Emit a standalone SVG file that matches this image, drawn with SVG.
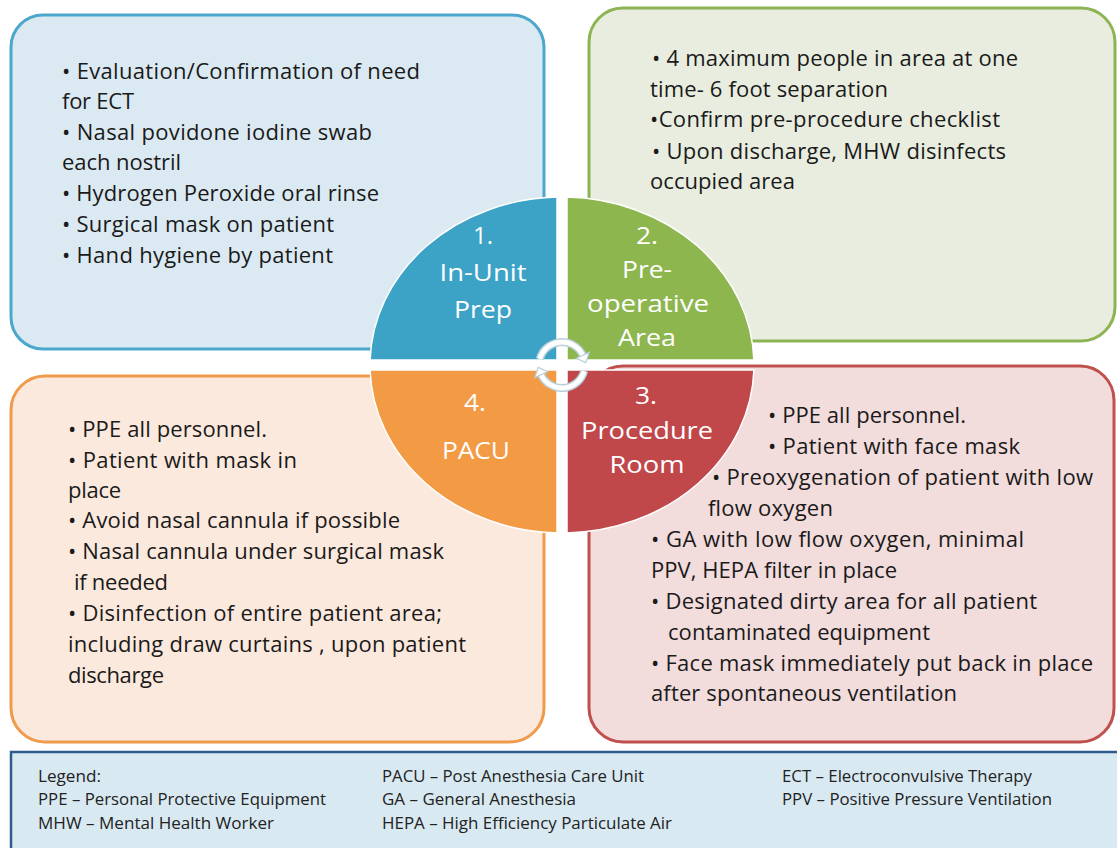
<svg xmlns="http://www.w3.org/2000/svg" width="1117" height="848" viewBox="0 0 1117 848">
<style>
.body{font-family:"Open Sans","Liberation Sans",sans-serif;font-size:22px;fill:#1a1a1a}
.lbl{font-family:"Open Sans","Liberation Sans",sans-serif;font-size:24px;fill:#ffffff;text-anchor:middle}
.leg{font-family:"Open Sans","Liberation Sans",sans-serif;font-size:15.5px;fill:#222222}
.quad{stroke:#ffffff;stroke-width:1.5}
</style>
<rect width="1117" height="848" fill="#ffffff"/>
<g id="box-1">
<rect x="11" y="15" width="533" height="334" rx="32" fill="#dbeaf2" stroke="#4ba7cb" stroke-width="3"/>
<text class="body" x="62" y="79" textLength="358">• Evaluation/Confirmation of need</text>
<text class="body" x="62" y="109" textLength="72">for ECT</text>
<text class="body" x="62" y="140" textLength="310">• Nasal povidone iodine swab</text>
<text class="body" x="62" y="170" textLength="119">each nostril</text>
<text class="body" x="62" y="201" textLength="317">• Hydrogen Peroxide oral rinse</text>
<text class="body" x="62" y="232" textLength="272">• Surgical mask on patient</text>
<text class="body" x="62" y="263" textLength="271">• Hand hygiene by patient</text>
</g>
<g id="box-2">
<rect x="589" y="8" width="526" height="333" rx="34" fill="#e8eddf" stroke="#8db353" stroke-width="3"/>
<text class="body" x="652" y="66" textLength="366">• 4 maximum people in area at one</text>
<text class="body" x="650" y="97" textLength="238">time- 6 foot separation</text>
<text class="body" x="650" y="127" textLength="350">•Confirm pre-procedure  checklist</text>
<text class="body" x="652" y="159" textLength="354">• Upon discharge, MHW disinfects</text>
<text class="body" x="650" y="189" textLength="145">occupied area</text>
</g>
<g id="box-4">
<rect x="11" y="376" width="533" height="366" rx="34" fill="#fce9dd" stroke="#f09a4c" stroke-width="3"/>
<text class="body" x="68" y="437" textLength="199">• PPE all personnel.</text>
<text class="body" x="68" y="468" textLength="229">• Patient with mask in</text>
<text class="body" x="68" y="498" textLength="53">place</text>
<text class="body" x="68" y="528" textLength="332">• Avoid nasal cannula if possible</text>
<text class="body" x="68" y="559" textLength="376">• Nasal cannula under surgical mask</text>
<text class="body" x="74" y="590" textLength="94">if needed</text>
<text class="body" x="68" y="621" textLength="374">• Disinfection  of entire patient area;</text>
<text class="body" x="68" y="652" textLength="398">including  draw curtains , upon patient</text>
<text class="body" x="68" y="683" textLength="96">discharge</text>
</g>
<g id="box-3">
<rect x="589" y="366" width="525" height="376" rx="34" fill="#f2dcdc" stroke="#c0504d" stroke-width="3"/>
<text class="body" x="768" y="423" textLength="198">• PPE all personnel.</text>
<text class="body" x="768" y="454" textLength="252">• Patient with face mask</text>
<text class="body" x="712" y="485" textLength="381">• Preoxygenation of patient with low</text>
<text class="body" x="708" y="516" textLength="125">flow oxygen</text>
<text class="body" x="651" y="547" textLength="373">• GA with low flow oxygen, minimal</text>
<text class="body" x="651" y="578" textLength="246">PPV, HEPA filter in place</text>
<text class="body" x="651" y="609" textLength="386">• Designated dirty area for all patient</text>
<text class="body" x="668" y="640" textLength="262">contaminated equipment</text>
<text class="body" x="651" y="671" textLength="442">• Face mask immediately put back in place</text>
<text class="body" x="651" y="701" textLength="306">after spontaneous  ventilation</text>
</g>
<g id="quad-1">
<path class="quad" d="M557,360 L557,197.1 A192,168 0 0 0 370.1,360 Z" fill="#3ca3c6"/>
<text class="lbl" x="483" y="244" textLength="20" lengthAdjust="spacingAndGlyphs">1.</text>
<text class="lbl" x="483" y="281" textLength="87" lengthAdjust="spacingAndGlyphs">In-Unit</text>
<text class="lbl" x="483" y="318" textLength="58" lengthAdjust="spacingAndGlyphs">Prep</text>
</g>
<g id="quad-2">
<path class="quad" d="M567,360 L753.9,360 A192,168 0 0 0 567,197.1 Z" fill="#8db64f"/>
<text class="lbl" x="647" y="244" textLength="22" lengthAdjust="spacingAndGlyphs">2.</text>
<text class="lbl" x="647" y="278" textLength="50" lengthAdjust="spacingAndGlyphs">Pre-</text>
<text class="lbl" x="648" y="312" textLength="122" lengthAdjust="spacingAndGlyphs">operative</text>
<text class="lbl" x="647" y="346" textLength="58" lengthAdjust="spacingAndGlyphs">Area</text>
</g>
<g id="quad-3">
<path class="quad" d="M567,370 L567,532.9 A192,168 0 0 0 753.9,370 Z" fill="#c0474a"/>
<text class="lbl" x="646" y="404" textLength="22" lengthAdjust="spacingAndGlyphs">3.</text>
<text class="lbl" x="647" y="439" textLength="132" lengthAdjust="spacingAndGlyphs">Procedure</text>
<text class="lbl" x="647" y="473" textLength="75" lengthAdjust="spacingAndGlyphs">Room</text>
</g>
<g id="quad-4">
<path class="quad" d="M557,370 L370.1,370 A192,168 0 0 0 557,532.9 Z" fill="#f39a45"/>
<text class="lbl" x="475" y="411" textLength="22" lengthAdjust="spacingAndGlyphs">4.</text>
<text class="lbl" x="476" y="459" textLength="68" lengthAdjust="spacingAndGlyphs">PACU</text>
</g>
<g id="connectors" fill="none">
<path d="M539.8,359 A23,23 0 0 1 582.8,355.3" stroke="#b9cfda" stroke-width="8"/>
<path d="M539.8,359 A23,23 0 0 1 582.8,355.3" stroke="#ffffff" stroke-width="5"/>
<polygon points="585.8,362.6 589.2,352.4 576.4,358.2" fill="#ffffff" stroke="#b9cfda" stroke-width="1.2"/>
<path d="M584.2,371 A23,23 0 0 1 541.15,374.7" stroke="#b9cfda" stroke-width="8"/>
<path d="M584.2,371 A23,23 0 0 1 541.15,374.7" stroke="#ffffff" stroke-width="5"/>
<polygon points="538.2,367.4 534.8,377.6 547.6,371.8" fill="#ffffff" stroke="#b9cfda" stroke-width="1.2"/>
</g>
<g id="legend">
<rect x="11" y="752" width="1120" height="110" fill="#d8e9f2" stroke="#2f5b8c" stroke-width="2.5"/>
<text class="leg" x="38" y="782" textLength="63" lengthAdjust="spacingAndGlyphs">Legend:</text>
<text class="leg" x="38" y="805" textLength="288" lengthAdjust="spacingAndGlyphs">PPE – Personal Protective  Equipment</text>
<text class="leg" x="38" y="829" textLength="236" lengthAdjust="spacingAndGlyphs">MHW – Mental Health Worker</text>
<text class="leg" x="382" y="782" textLength="262" lengthAdjust="spacingAndGlyphs">PACU – Post Anesthesia Care Unit</text>
<text class="leg" x="382" y="805" textLength="194" lengthAdjust="spacingAndGlyphs">GA – General Anesthesia</text>
<text class="leg" x="382" y="829" textLength="290" lengthAdjust="spacingAndGlyphs">HEPA – High Efficiency Particulate Air</text>
<text class="leg" x="782" y="782" textLength="250" lengthAdjust="spacingAndGlyphs">ECT – Electroconvulsive Therapy</text>
<text class="leg" x="782" y="805" textLength="270" lengthAdjust="spacingAndGlyphs">PPV – Positive Pressure Ventilation</text>
</g>
</svg>
